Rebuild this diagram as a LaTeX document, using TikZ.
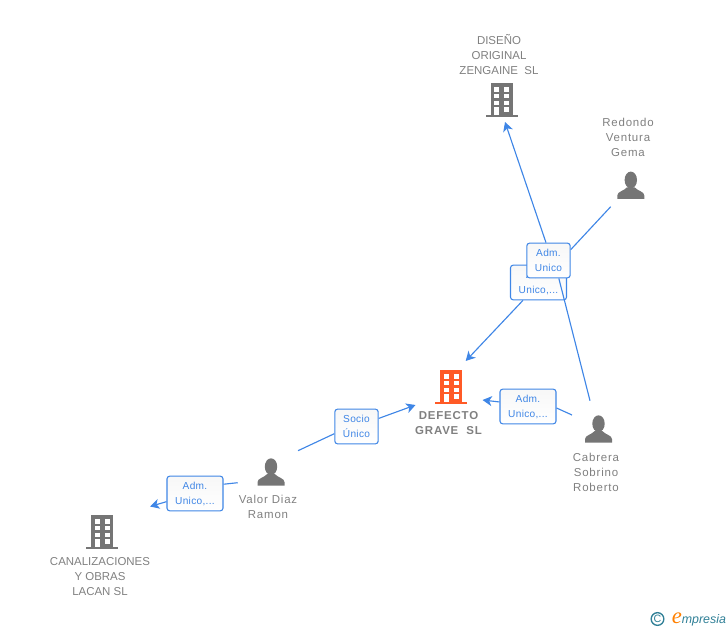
\documentclass[tikz,border=0pt]{standalone}
\usepackage{xcolor}
\usepackage{fontspec}
\setmainfont{Liberation Sans}
\newfontfamily\serifit{Liberation Serif}
\usepackage{tikz}
\usetikzlibrary{calc}
\usetikzlibrary{arrows.meta}
\definecolor{linkblue}{HTML}{3F86E6}
\definecolor{namegray}{HTML}{808080}
\definecolor{icongray}{HTML}{757575}
\definecolor{mainorange}{HTML}{FF5A26}
\definecolor{logoteal}{HTML}{2F7F96}
\tikzset{
  namelabel/.style={align=center, text=namegray, font=\fontsize{8.6}{11.25}\selectfont, inner sep=0pt},
  personlabel/.style={namelabel, font=\fontsize{8.6}{11.25}\selectfont\addfontfeature{LetterSpace=7}},
  mainlabel/.style={namelabel, font=\fontsize{8.6}{11.25}\selectfont\bfseries\addfontfeature{LetterSpace=7}},
  rolebox/.style={rectangle, rounded corners=2pt, draw=linkblue, line width=0.8pt, top color=black!3, bottom color=white, text=linkblue, align=center, font=\fontsize{7.6}{11.25}\selectfont\addfontfeature{LetterSpace=3}, minimum width=42pt, minimum height=26pt, inner sep=0pt, text depth=0pt},
  narrowbox/.style={rolebox, minimum width=32.5pt},
  link/.style={draw=linkblue, line width=0.85pt},
  linkarrow/.style={link, -{Stealth[length=7pt, width=7.5pt, inset=2pt]}},
  buildingicon/.pic={
    \fill [pic actions] (-11,-2) rectangle (11,-34);
    \fill [pic actions] (-16,0) rectangle (16,-2);
    \foreach \wy in {-29.7,-23,-16.3,-9.7} \fill [white] (2.5,\wy) rectangle (7.5,\wy+4.4);
    \foreach \wy in {-29.7,-23,-16.3} \fill [white] (-7.2,\wy) rectangle (-2.5,\wy+4.4);
    \fill [white] (-7.2,-9.7) rectangle (-2.5,-2);
  },
  personicon/.pic={
    \fill [pic actions] (0,-19) ellipse (6.2 and 8.4);
    \fill [pic actions] (-13.5,0) -- (-13.5,-3.5) .. controls (-13.5,-7.5) and (-7,-8) .. (-4,-11.5) -- (4,-11.5) .. controls (7,-8) and (13.5,-7.5) .. (13.5,-3.5) -- (13.5,0) -- cycle;
  }
}
\begin{document}
\begin{tikzpicture}[x=0.75pt, y=-0.75pt]
\useasboundingbox (0,0) rectangle (728,630);
\pic [fill=icongray] at (501.5,117) {buildingicon};
\pic [fill=mainorange] at (451,404) {buildingicon};
\pic [fill=icongray] at (102,549) {buildingicon};
\pic [fill=icongray] at (630.8,199) {personicon};
\pic [fill=icongray] at (598.5,442.7) {personicon};
\pic [fill=icongray] at (271,485.7) {personicon};
\node [namelabel] (Zengaine) at (499,54.5) {DISEÑO\\ORIGINAL\\ZENGAINE\ \ SL};
\node [personlabel] (Redondo) at (628,137.7) {Redondo\\Ventura\\Gema};
\node [mainlabel] (Defecto) at (448.5,423.3) {DEFECTO\\GRAVE\ \ SL};
\node [personlabel] (Cabrera) at (596,472) {Cabrera\\Sobrino\\Roberto};
\node [personlabel] (Valor) at (268,506.5) {Valor Diaz\\Ramon};
\node [namelabel] (Lacan) at (100,576.7) {CANALIZACIONES\\Y OBRAS\\LACAN SL};
\node [rolebox] (RoleDefecto) at (538.5,282.5) {Adm.\\Unico,...};
\node [narrowbox] (RoleZengaine) at (548.5,260.5) {Adm.\\Unico};
\node [rolebox] (RoleCabrera) at (528,406.5) {Adm.\\Unico,...};
\node [narrowbox] (RoleSocio) at (356.5,426.5) {Socio\\Único};
\node [rolebox] (RoleLacan) at (195,493.5) {Adm.\\Unico,...};
\coordinate (RedondoOut) at (610.7,206.7);
\coordinate (CabreraUp) at (590,400.7);
\coordinate (CabreraLeft) at (572,415);
\coordinate (ValorUp) at (298,450.7);
\coordinate (ValorLeft) at (237.7,482.7);
\coordinate (ZengaineIn) at (505,122);
\coordinate (DefectoTop) at (465.7,361);
\coordinate (DefectoRight) at (482.5,400);
\coordinate (DefectoLeft) at (415.5,405);
\coordinate (LacanIn) at (150,506.5);
\draw [link] (CabreraUp) to (RoleZengaine.-60);
\draw [linkarrow] (RoleZengaine.98) to (ZengaineIn);
\draw [link] (RedondoOut) to (RoleZengaine.26);
\draw [linkarrow] (RoleDefecto.-131) to (DefectoTop);
\draw [link] (CabreraLeft) to (RoleCabrera.-3);
\draw [linkarrow] (RoleCabrera.171) to (DefectoRight);
\draw [link] (ValorUp) to (RoleSocio.198);
\draw [linkarrow] (RoleSocio.20) to (DefectoLeft);
\draw [link] (ValorLeft) to (RoleLacan.18);
\draw [linkarrow] (RoleLacan.196) to (LacanIn);
\node [circle, draw=logoteal, line width=1pt, text=logoteal, font=\fontsize{8}{8}\selectfont, minimum size=9.5pt, inner sep=0pt] (LogoMark) at (657.5,619) {C};
\node [anchor=west, inner sep=0pt, text=logoteal, font=\itshape\fontsize{9.3}{9.3}\selectfont] (LogoName) at (671.5,619) {\textcolor{orange}{\serifit\itshape\fontsize{17}{17}\selectfont e}mpresia};
\end{tikzpicture}
\end{document}
